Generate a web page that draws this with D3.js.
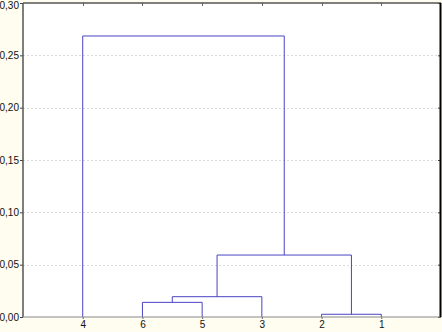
<!DOCTYPE html>
<html>
<head>
<meta charset="utf-8">
<script src="https://cdn.jsdelivr.net/npm/d3@7"></script>
<style>
  body { margin: 0; background: #fffcf0; }
  svg { display: block; font-family: "Liberation Sans", Arial, sans-serif; }
  .grid line { stroke: #dcdcdc; stroke-dasharray: 2,2; }
  .link { fill: none; stroke: #4a44c4; stroke-width: 1; }
</style>
</head>
<body>
<div id="chart"></div>
<script>
const w = 442;
const h = 332;

// leaves in display order
const leafLabels = ["4", "6", "5", "3", "2", "1"];
// linkage: clusters 0..5 are leaves, each merge makes a new id 6, 7, ...
const mergeA = [4, 1, 7, 8, 0];
const mergeB = [5, 2, 3, 6, 9];
const mergeH = [0.0026, 0.014, 0.0194, 0.0592, 0.2685];
const yTicks = [0, 0.05, 0.10, 0.15, 0.20, 0.25, 0.30];

const margin = {top: 3, right: 1, bottom: 15, left: 23};

const svg = d3.select("#chart").append("svg")
  .attr("width", w).attr("height", h);

const x = d3.scaleLinear().domain([0, leafLabels.length + 1]).range([margin.left, w - margin.right]);
const y = d3.scaleLinear().domain([0, 0.3]).range([h - margin.bottom, margin.top]);

const comma = d3.formatLocale({decimal: ",", thousands: ".", grouping: [3], currency: ["", ""]}).format(".2f");

svg.append("rect")
  .attr("x", x.range()[0]).attr("y", y.range()[1])
  .attr("width", x.range()[1] - x.range()[0])
  .attr("height", y.range()[0] - y.range()[1])
  .attr("fill", "#fff");

svg.append("g").attr("class", "grid")
  .selectAll("line")
  .data(yTicks.slice(1, -1))
  .enter().append("line")
  .attr("x1", x.range()[0]).attr("x2", x.range()[1])
  .attr("y1", (d) => Math.round(y(d)) + 0.5)
  .attr("y2", (d) => Math.round(y(d)) + 0.5);

// node positions
const nodes = leafLabels.map((l, i) => ({x: x(i + 1), h: 0}));
mergeH.forEach((hh, k) => {
  const a = nodes[mergeA[k]];
  const b = nodes[mergeB[k]];
  nodes.push({x: (a.x + b.x) / 2, h: hh});
});

svg.append("g").selectAll("path")
  .data(mergeH)
  .enter().append("path")
  .attr("class", "link")
  .attr("d", (hh, k) => {
    const a = nodes[mergeA[k]];
    const b = nodes[mergeB[k]];
    return "M" + a.x + "," + y(a.h) + "V" + y(hh) + "H" + b.x + "V" + y(b.h);
  });

// y axis
const yAxis = svg.append("g")
  .attr("transform", "translate(" + margin.left + ",0)")
  .call(d3.axisLeft(y).tickValues(yTicks).tickFormat(comma).tickSize(3).tickPadding(1));
yAxis.select(".domain").remove();
yAxis.selectAll("text").attr("font-size", 10).attr("fill", "#111").attr("font-family", "Liberation Sans, Arial");
yAxis.selectAll("line").attr("stroke", "#444");
// keep the top label inside the picture
yAxis.selectAll(".tick").filter((d) => d === 0.3).select("text").attr("y", 2);

// right-side inner ticks
svg.append("g")
  .attr("transform", "translate(" + (w - margin.right) + ",0)")
  .call(d3.axisLeft(y).tickValues(yTicks).tickFormat("").tickSize(3))
  .call((g) => g.select(".domain").remove())
  .selectAll("line").attr("stroke", "#444")
  .attr("x2", -3);

// x axis labels
const xAxis = svg.append("g")
  .attr("transform", "translate(0," + y(0) + ")")
  .call(d3.axisBottom(x).tickValues(d3.range(1, leafLabels.length + 1))
    .tickFormat((d) => leafLabels[d - 1]).tickSize(2).tickPadding(2));
xAxis.select(".domain").remove();
xAxis.selectAll("text").attr("font-size", 10).attr("fill", "#111").attr("font-family", "Liberation Sans, Arial");
xAxis.selectAll("line").attr("stroke", "#666");

// top inner ticks
svg.append("g").selectAll("line")
  .data(d3.range(1, leafLabels.length + 1))
  .enter().append("line")
  .attr("x1", (d) => Math.round(x(d)) + 0.5).attr("x2", (d) => Math.round(x(d)) + 0.5)
  .attr("y1", y.range()[1]).attr("y2", y.range()[1] + 3)
  .attr("stroke", "#666");

// frame
const x0 = x.range()[0], x1 = x.range()[1], y0 = y.range()[0], y1 = y.range()[1];
svg.append("line").attr("x1", x0).attr("x2", x1).attr("y1", y1).attr("y2", y1).attr("stroke", "#555").attr("stroke-width", 1.5);
svg.append("line").attr("x1", x0).attr("x2", x0).attr("y1", y1).attr("y2", y0).attr("stroke", "#555").attr("stroke-width", 1.5);
svg.append("line").attr("x1", x0).attr("x2", x1).attr("y1", y0).attr("y2", y0).attr("stroke", "#888").attr("stroke-width", 1);
svg.append("line").attr("x1", x1 - 0.5).attr("x2", x1 - 0.5).attr("y1", y1).attr("y2", y0).attr("stroke", "#000").attr("stroke-width", 2);
</script>
</body>
</html>
